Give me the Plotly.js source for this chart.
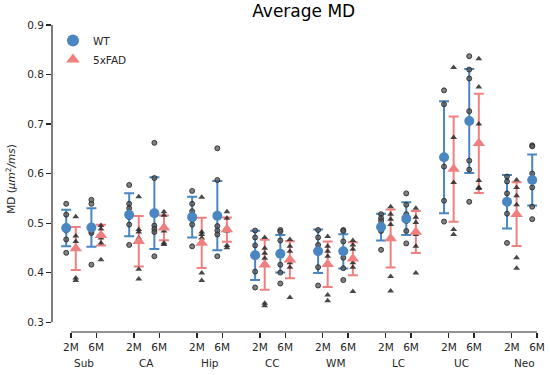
<!DOCTYPE html>
<html>
<head>
<meta charset="utf-8">
<script src="https://cdn.plot.ly/plotly-3.0.1.min.js"></script>
<style>html,body{margin:0;padding:0;background:#fff;}#chart{width:550px;height:375px;}</style>
</head>
<body>
<div id="chart"></div>
<script>
// ---- data ----
const regions = ['Sub', 'CA', 'Hip', 'CC', 'WM', 'LC', 'UC', 'Neo'];
const ages = ['2M', '6M'];
const yTicks = [0.3, 0.4, 0.5, 0.6, 0.7, 0.8, 0.9];

// order: Sub2M, Sub6M, CA2M, CA6M, ... Neo6M
const wt_mean = [0.490, 0.491, 0.517, 0.520, 0.512, 0.515, 0.435, 0.438,
                 0.443, 0.443, 0.492, 0.509, 0.633, 0.706, 0.543, 0.587];
const wt_sd   = [0.037, 0.039, 0.0435, 0.0725, 0.041, 0.070, 0.0497, 0.038,
                 0.044, 0.0345, 0.027, 0.033, 0.113, 0.105, 0.054, 0.0515];
const fad_mean = [0.4486, 0.4756, 0.4634, 0.4905, 0.460, 0.487, 0.416, 0.426,
                  0.417, 0.428, 0.469, 0.482, 0.609, 0.661, 0.518, 0.555];
const fad_sd   = [0.0435, 0.021, 0.051, 0.025, 0.0507, 0.0245, 0.0505, 0.0375,
                  0.046, 0.0335, 0.0587, 0.0424, 0.1064, 0.100, 0.0644, 0.0355];

const wt_points = [
  [0.539, 0.517, 0.492, 0.485, 0.467, 0.440],
  [0.547, 0.539, 0.490, 0.484, 0.480, 0.416],
  [0.577, 0.539, 0.530, 0.512, 0.497, 0.456],
  [0.662, 0.591, 0.495, 0.488, 0.482, 0.433],
  [0.565, 0.539, 0.524, 0.507, 0.497, 0.453],
  [0.651, 0.587, 0.494, 0.485, 0.477, 0.433],
  [0.485, 0.471, 0.455, 0.435, 0.402, 0.370],
  [0.486, 0.483, 0.465, 0.416, 0.400, 0.378],
  [0.486, 0.471, 0.456, 0.443, 0.411, 0.374],
  [0.486, 0.484, 0.463, 0.430, 0.409, 0.385],
  [0.518, 0.510, 0.504, 0.490, 0.484, 0.446],
  [0.560, 0.537, 0.518, 0.504, 0.484, 0.459],
  [0.768, 0.740, 0.633, 0.614, 0.545, 0.503],
  [0.837, 0.810, 0.792, 0.726, 0.626, 0.608, 0.543],
  [0.594, 0.584, 0.560, 0.540, 0.519, 0.460],
  [0.657, 0.655, 0.600, 0.590, 0.572, 0.533, 0.508]
];
const fad_points = [
  [0.513, 0.474, 0.463, 0.451, 0.389, 0.384],
  [0.495, 0.488, 0.479, 0.470, 0.460, 0.426],
  [0.553, 0.487, 0.482, 0.470, 0.407, 0.387],
  [0.523, 0.516, 0.494, 0.484, 0.460, 0.457],
  [0.552, 0.482, 0.477, 0.470, 0.399, 0.384],
  [0.523, 0.510, 0.491, 0.484, 0.455, 0.450],
  [0.471, 0.449, 0.439, 0.429, 0.338, 0.333],
  [0.467, 0.453, 0.443, 0.420, 0.411, 0.350],
  [0.473, 0.453, 0.443, 0.433, 0.355, 0.343],
  [0.465, 0.456, 0.447, 0.420, 0.411, 0.362],
  [0.533, 0.518, 0.508, 0.497, 0.392, 0.363],
  [0.530, 0.512, 0.501, 0.477, 0.453, 0.399],
  [0.814, 0.673, 0.609, 0.582, 0.487, 0.477],
  [0.832, 0.775, 0.700, 0.586, 0.572, 0.570],
  [0.587, 0.572, 0.555, 0.537, 0.430, 0.409],
  [0.604, 0.588, 0.565, 0.541, 0.506, 0.504]
];

// ---- layout helpers ----
const GROUP_STEP = 2.5, AGE_STEP = 1, DODGE = 0.19;
const BLUE = '#4a87c2', RED = '#f08080', FONT = 'DejaVu Sans, sans-serif', INK = '#262626';

const tickVals = [], tickText = [], baseX = [];
regions.forEach((r, i) => ages.forEach((a, j) => {
  const x = i * GROUP_STEP + j * AGE_STEP;
  tickVals.push(x); tickText.push(a); baseX.push(x);
}));
const wtX = baseX.map(x => x - DODGE);
const fadX = baseX.map(x => x + DODGE);

function flat(xs, pts) {
  const X = [], Y = [];
  pts.forEach((arr, k) => arr.forEach(v => { X.push(xs[k]); Y.push(v); }));
  return {X, Y};
}
const wtP = flat(wtX, wt_points), fadP = flat(fadX, fad_points);

function errTrace(x, y, sd, color) {
  return {x, y, type: 'scatter', mode: 'markers', cliponaxis: false, showlegend: false, hoverinfo: 'skip',
    marker: {size: 1, color: 'rgba(0,0,0,0)'},
    error_y: {type: 'data', array: sd, visible: true, color, thickness: 2, width: 5}};
}
const traces = [
  errTrace(wtX, wt_mean, wt_sd, BLUE),
  errTrace(fadX, fad_mean, fad_sd, RED),
  {x: wtP.X, y: wtP.Y, type: 'scatter', mode: 'markers', cliponaxis: false, showlegend: false,
   marker: {symbol: 'circle', size: 5, color: 'rgba(85,85,85,0.75)', line: {width: 1, color: 'rgba(40,40,40,0.85)'}}},
  {x: fadP.X, y: fadP.Y, type: 'scatter', mode: 'markers', cliponaxis: false, showlegend: false,
   marker: {symbol: 'triangle-up', size: 6, color: 'rgba(40,40,40,0.85)', line: {width: 0}}},
  {x: wtX, y: wt_mean, type: 'scatter', mode: 'markers', name: 'WT', cliponaxis: false,
   marker: {symbol: 'circle', size: 10, color: BLUE}},
  {x: fadX, y: fad_mean, type: 'scatter', mode: 'markers', name: '5xFAD', cliponaxis: false,
   marker: {symbol: 'triangle-up', size: 11, color: RED}}
];

const annotations = regions.map((r, i) => ({
  text: r, xref: 'x', yref: 'paper', x: i * GROUP_STEP + AGE_STEP / 2, y: -0.1,
  xanchor: 'center', yanchor: 'middle', showarrow: false, font: {family: FONT, size: 10.5, color: INK}
}));
annotations.push({
  text: 'MD (<i>μm</i><sup>2</sup><i>/ms</i>)', xref: 'paper', yref: 'paper', x: -0.086, y: 0.5,
  textangle: -90, xanchor: 'center', yanchor: 'middle', showarrow: false,
  font: {family: FONT, size: 10.5, color: INK}
});

const layout = {
  width: 550, height: 375,
  margin: {l: 52, r: 13, t: 25, b: 43.4, pad: 0},
  paper_bgcolor: '#fff', plot_bgcolor: '#fff',
  font: {family: FONT, size: 10.5, color: INK},
  title: {text: 'Average MD', x: 303.7 / 550, xref: 'container', xanchor: 'center',
          y: 1 - 11 / 375, yref: 'container', yanchor: 'middle', font: {family: FONT, size: 17, color: '#000'}},
  xaxis: {range: [-0.754, 18.5], tickvals: tickVals, ticktext: tickText, ticks: 'outside', ticklen: 5,
          tickwidth: 1.2, tickcolor: INK, showline: false, showgrid: false, zeroline: false,
          tickfont: {family: FONT, size: 10.5, color: INK}},
  yaxis: {range: [0.2801, 0.9], tickvals: yTicks, ticktext: yTicks.map(v => v.toFixed(1)), ticks: 'outside',
          ticklen: 5, tickwidth: 1.2, tickcolor: INK, showline: false, showgrid: false, zeroline: false,
          tickfont: {family: FONT, size: 10.5, color: INK}},
  shapes: [
    {type: 'line', xref: 'paper', yref: 'y', x0: 0, x1: 0, y0: yTicks[0], y1: yTicks[yTicks.length - 1],
     line: {color: INK, width: 1.2}},
    {type: 'line', xref: 'x', yref: 'paper', x0: tickVals[0], x1: tickVals[tickVals.length - 1], y0: 0, y1: 0,
     line: {color: INK, width: 1.2}}
  ],
  legend: {x: 0.002, y: 0.997, xanchor: 'left', yanchor: 'top', bgcolor: 'rgba(0,0,0,0)',
           itemsizing: 'constant', font: {family: FONT, size: 10.5, color: INK}, tracegroupgap: 0},
  annotations,
  showlegend: true
};

Plotly.newPlot('chart', traces, layout, {staticPlot: true, displayModeBar: false});
</script>
</body>
</html>
